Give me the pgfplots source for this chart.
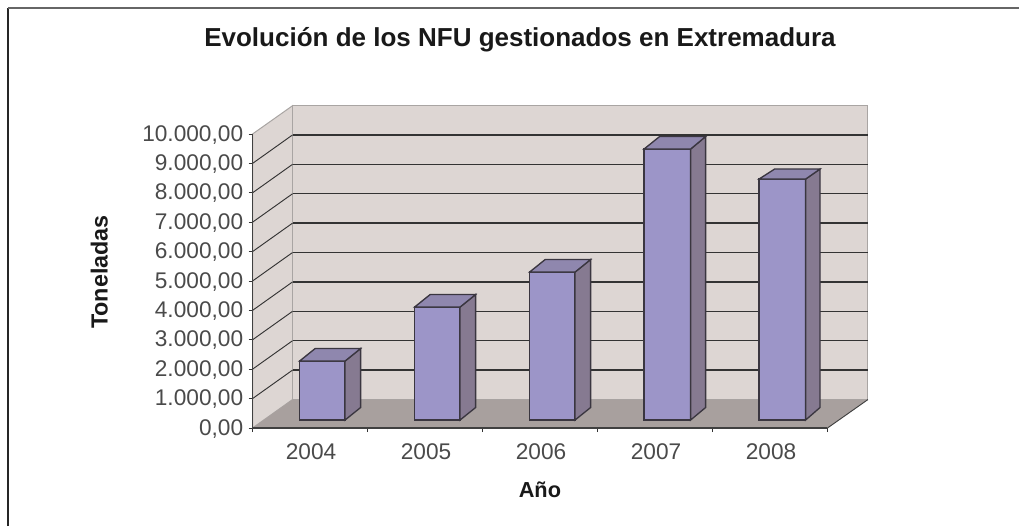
\documentclass[border=0pt]{standalone}
\usepackage{pgfplots}
\pgfplotsset{compat=1.18}
\usepackage{fontspec}
\setmainfont{Liberation Sans}
\definecolor{wall}{HTML}{DDD6D3}
\definecolor{floorc}{HTML}{A8A09E}
\definecolor{wedge}{HTML}{A9A5A3}
\definecolor{barf}{HTML}{9C95C8}
\definecolor{bars}{HTML}{867A91}
\definecolor{bart}{HTML}{8F87AE}
\definecolor{edgec}{HTML}{3A3640}
\definecolor{txt}{HTML}{4A4A4A}
\newcommand\threebar[6]{%
  \addplot[fill=barf,draw=edgec,line width=1pt] coordinates {(#1,272)(#2,272)(#2,#5)(#1,#5)} --cycle;
  \addplot[fill=bars,draw=edgec,line width=1pt] coordinates {(#2,272)(#3,697)(#3,#6)(#2,#5)} --cycle;
  \addplot[fill=bart,draw=edgec,line width=1pt] coordinates {(#1,#5)(#4,#6)(#3,#6)(#2,#5)} --cycle;
}
\begin{document}
\begin{tikzpicture}
\path[use as bounding box] (0,0) rectangle (764.25pt,394.5pt);
\draw[line width=1pt,color=black!85] (6pt,0) -- (6pt,388.5pt);
\draw[line width=1pt,color=black!60] (6pt,388.5pt) -- (764.25pt,388.5pt);
\begin{axis}[
  at={(189.375pt,73.5pt)}, anchor=south west,
  scale only axis, width=461.6pt, height=241.7pt,
  xmin=0, xmax=5.352, ymin=0, ymax=10963,
  clip=false,
  scaled y ticks=false,
  axis x line*=bottom, axis y line*=left,
  axis line style={draw=none,-},
  tick align=outside,
  major tick length=3pt,
  tick style={color=black!80,line width=0.75pt},
  xtick={0,1,2,3,4,5},
  x tick label as interval=true,
  xticklabels={2004,2005,2006,2007,2008},
  ytick={0,1000,2000,3000,4000,5000,6000,7000,8000,9000,10000},
  yticklabels={{0,00},{1.000,00},{2.000,00},{3.000,00},{4.000,00},{5.000,00},{6.000,00},{7.000,00},{8.000,00},{9.000,00},{10.000,00}},
  ticklabel style={font=\fontsize{17}{20}\selectfont,text=txt},
  xticklabel style={yshift=-5.5pt,xshift=0.8pt},
  yticklabel style={xshift=-0.5pt,yshift=-0.5pt},
]
% walls and floor
\addplot[fill=wall,draw=wedge,line width=0.75pt] coordinates {(0,0)(0.348,969)(0.348,10963)(0,10000)} --cycle;
\addplot[fill=wall,draw=wedge,line width=0.75pt] coordinates {(0.348,969)(5.352,969)(5.352,10963)(0.348,10963)} --cycle;
\addplot[fill=floorc,draw=none] coordinates {(0,0)(5,0)(5.352,969)(0.348,969)} --cycle;
% gridlines on the back wall
\addplot[draw=black!80,line width=1pt,unbounded coords=jump] coordinates {
 (0.348,1969)(5.352,1969)(0,nan)
 (0.348,2969)(5.352,2969)(0,nan)
 (0.348,3969)(5.352,3969)(0,nan)
 (0.348,4969)(5.352,4969)(0,nan)
 (0.348,5969)(5.352,5969)(0,nan)
 (0.348,6969)(5.352,6969)(0,nan)
 (0.348,7969)(5.352,7969)(0,nan)
 (0.348,8969)(5.352,8969)(0,nan)
 (0.348,9969)(5.352,9969)};
% gridlines on the side wall
\addplot[draw=black!80,line width=0.7pt,unbounded coords=jump] coordinates {
 (0,1000)(0.348,1969)(0,nan)
 (0,2000)(0.348,2969)(0,nan)
 (0,3000)(0.348,3969)(0,nan)
 (0,4000)(0.348,4969)(0,nan)
 (0,5000)(0.348,5969)(0,nan)
 (0,6000)(0.348,6969)(0,nan)
 (0,7000)(0.348,7969)(0,nan)
 (0,8000)(0.348,8969)(0,nan)
 (0,9000)(0.348,9969)};
% front edges of the plot box
\addplot[draw=black!75,line width=1pt] coordinates {(0,10000)(0,0)(5,0)};
\addplot[draw=black!75,line width=0.7pt] coordinates {(5,0)(5.352,969)};
% bars
\threebar{0.41}{0.805}{0.94}{0.545}{2279}{2704}
\threebar{1.41}{1.805}{1.94}{1.545}{4116}{4541}
\threebar{2.41}{2.805}{2.94}{2.545}{5306}{5731}
\threebar{3.405}{3.81}{3.94}{3.54}{9490}{9915}
\threebar{4.405}{4.81}{4.935}{4.54}{8469}{8809}
\node[font=\bfseries\fontsize{19.5}{22}\selectfont,text=black!90] at (axis description cs:0.4346,1.204) {Evolución de los NFU gestionados en Extremadura};
\node[font=\bfseries\fontsize{16.3}{19}\selectfont,text=black!90] at (axis description cs:0.467,-0.192) {Año};
\node[font=\bfseries\fontsize{17.5}{20}\selectfont,text=black!90,rotate=90] at (axis description cs:-0.249,0.484) {Toneladas};
\end{axis}
\end{tikzpicture}
\end{document}
